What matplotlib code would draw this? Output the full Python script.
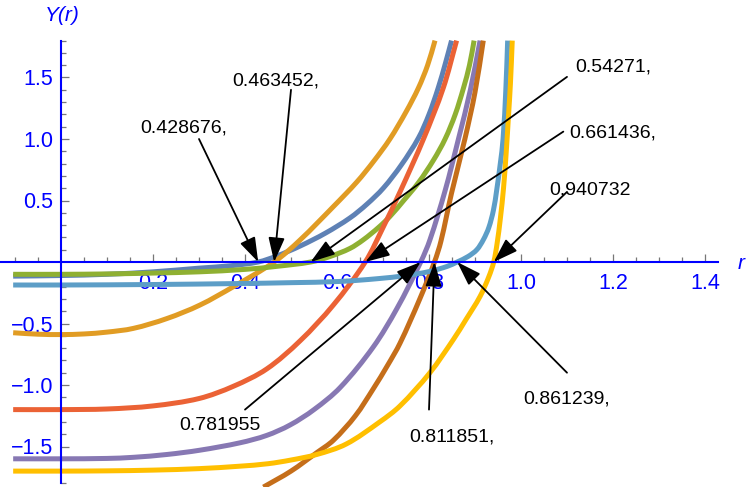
import numpy as np
import matplotlib
matplotlib.use("Agg")
import matplotlib.pyplot as plt
from matplotlib.path import Path
from matplotlib.patches import PathPatch
from matplotlib.ticker import FixedLocator, FixedFormatter

plt.rcParams['font.family'] = ['Liberation Sans', 'DejaVu Sans']

# ---------------- data ----------------
r_blue = [-0.104, 0.0, 0.1, 0.2, 0.3, 0.37, 0.428676, 0.47, 0.52, 0.575, 0.628, 0.665, 0.701, 0.74, 0.777, 0.80, 0.82, 0.836, 0.849]
y_blue = [-0.115, -0.11, -0.10, -0.08, -0.05, -0.03, 0.0, 0.05, 0.13, 0.235, 0.358, 0.47, 0.602, 0.79, 1.008, 1.20, 1.415, 1.62, 1.8]

r_orange = [-0.104, -0.05, 0.0, 0.05, 0.1, 0.157, 0.23, 0.302, 0.375, 0.463452, 0.52, 0.592, 0.643, 0.68, 0.715, 0.75, 0.777, 0.797, 0.813]
y_orange = [-0.575, -0.587, -0.59, -0.585, -0.57, -0.54, -0.46, -0.35, -0.2, 0.0, 0.18, 0.45, 0.65, 0.82, 1.0, 1.22, 1.415, 1.6, 1.8]

r_green = [-0.104, 0.0, 0.1, 0.2, 0.3, 0.4, 0.47, 0.54271, 0.585, 0.628, 0.657, 0.69, 0.715, 0.745, 0.777, 0.81, 0.835, 0.857, 0.875, 0.888, 0.898]
y_green = [-0.10, -0.10, -0.097, -0.09, -0.08, -0.06, -0.035, 0.0, 0.045, 0.11, 0.18, 0.28, 0.37, 0.50, 0.645, 0.83, 1.0, 1.2, 1.415, 1.6, 1.8]

r_red = [-0.104, 0.0, 0.1, 0.2, 0.3, 0.375, 0.447, 0.52, 0.592, 0.661436, 0.70, 0.737, 0.788, 0.831, 0.86]
y_red = [-1.20, -1.20, -1.195, -1.17, -1.11, -1.01, -0.87, -0.64, -0.35, 0.0, 0.28, 0.57, 1.0, 1.415, 1.8]

r_purple = [-0.104, 0.0, 0.1, 0.157, 0.23, 0.302, 0.389, 0.447, 0.498, 0.55, 0.607, 0.679, 0.73, 0.781955, 0.802, 0.835, 0.864, 0.89, 0.911]
y_purple = [-1.60, -1.60, -1.597, -1.588, -1.565, -1.53, -1.47, -1.41, -1.325, -1.20, -1.02, -0.69, -0.38, 0.0, 0.18, 0.58, 1.0, 1.4, 1.8]

r_brown = [0.44, 0.50, 0.556, 0.592, 0.64, 0.679, 0.71, 0.737, 0.78, 0.811851, 0.826, 0.849, 0.878, 0.90, 0.918]
y_brown = [-1.83, -1.70, -1.55, -1.45, -1.25, -1.03, -0.84, -0.66, -0.30, 0.0, 0.17, 0.56, 1.0, 1.38, 1.8]

r_lblue = [-0.104, 0.0, 0.2, 0.389, 0.5, 0.607, 0.69, 0.75, 0.80, 0.84, 0.861239, 0.885, 0.904, 0.918, 0.93, 0.94, 0.947, 0.955, 0.961, 0.967, 0.971]
y_lblue = [-0.187, -0.187, -0.183, -0.175, -0.168, -0.158, -0.135, -0.11, -0.078, -0.035, 0.0, 0.045, 0.10, 0.18, 0.28, 0.42, 0.58, 0.80, 1.0, 1.4, 1.8]

r_yellow = [-0.104, 0.0, 0.1, 0.2, 0.3, 0.389, 0.45, 0.5, 0.556, 0.62, 0.693, 0.737, 0.802, 0.853, 0.88, 0.911, 0.93, 0.940732, 0.948, 0.955, 0.962, 0.968, 0.973, 0.977, 0.981]
y_yellow = [-1.70, -1.70, -1.698, -1.692, -1.68, -1.66, -1.64, -1.61, -1.565, -1.48, -1.30, -1.17, -0.90, -0.63, -0.47, -0.28, -0.12, 0.0, 0.15, 0.35, 0.60, 0.90, 1.20, 1.45, 1.8]

roots = [0.428676, 0.463452, 0.54271, 0.661436, 0.781955, 0.811851, 0.861239, 0.940732]
root_labels = ["0.428676,", "0.463452,", "0.54271,", "0.661436,", "0.781955", "0.811851,", "0.861239,", "0.940732"]
label_xy = [(0.2674, 1.049), (0.4674, 1.439), (1.20, 1.545), (1.20, 1.016),
            (0.3457, -1.366), (0.849, -1.461), (1.098, -1.154), (1.15, 0.545)]
arrow_start = [(0.30, 1.00), (0.50, 1.40), (1.10, 1.505), (1.092, 1.06),
               (0.40, -1.20), (0.80, -1.20), (1.10, -0.90), (1.10, 0.57)]

xt_major = [0.2, 0.4, 0.6, 0.8, 1.0, 1.2, 1.4]
xt_labels = ["0.2", "0.4", "0.6", "0.8", "1.0", "1.2", "1.4"]
yt_major = [-1.5, -1.0, -0.5, 0.5, 1.0, 1.5]
yt_labels = ["\u22121.5", "\u22121.0", "\u22120.5", "0.5", "1.0", "1.5"]

colors = ["#5E81B5", "#E19C24", "#8FB032", "#EB6235", "#8778B3", "#C56E1A", "#5D9EC7", "#FFBF00"]

# ---------------- figure ----------------
fig = plt.figure(figsize=(7.47, 4.87), dpi=100)
ax = fig.add_axes([0, 0, 1, 1])
ax.set_xlim(-61 / 460, 686 / 460)
ax.set_ylim(-225 / 123, 262 / 123)


def smooth_path(rx, ry):
    """Cubic Bezier path through the read points (tangents from neighbours,
    computed in screen-like units so both axes weigh equally)."""
    P = np.column_stack([np.asarray(rx, float) * 460.0, np.asarray(ry, float) * 123.0])
    n = len(P)
    T = np.zeros_like(P)
    for i in range(n):
        a = P[max(i - 1, 0)]
        b = P[min(i + 1, n - 1)]
        d = b - a
        T[i] = d / np.hypot(*d)
    verts = [P[0]]
    codes = [Path.MOVETO]
    for i in range(n - 1):
        L = np.hypot(*(P[i + 1] - P[i])) / 3.0
        verts += [P[i] + T[i] * L, P[i + 1] - T[i + 1] * L, P[i + 1]]
        codes += [Path.CURVE4] * 3
    V = np.array(verts)
    V[:, 0] /= 460.0
    V[:, 1] /= 123.0
    return Path(V, codes)


series = [(r_blue, y_blue), (r_orange, y_orange), (r_green, y_green), (r_red, y_red),
          (r_purple, y_purple), (r_brown, y_brown), (r_lblue, y_lblue), (r_yellow, y_yellow)]
for (rx, ry), c in zip(series, colors):
    ax.add_patch(PathPatch(smooth_path(rx, ry), facecolor='none', edgecolor=c, lw=3.6,
                           capstyle='butt', joinstyle='round', zorder=2))

# axes through origin
for s in ['top', 'right']:
    ax.spines[s].set_visible(False)
axis_blue = '#0000FF'
ax.spines['left'].set_position(('data', 0))
ax.spines['bottom'].set_position(('data', 0))
ax.spines['left'].set_bounds(-1.8, 1.8)
ax.spines['bottom'].set_bounds(-0.1326, 1.428)
for s in ['left', 'bottom']:
    ax.spines[s].set_color(axis_blue)
    ax.spines[s].set_linewidth(1.5)
    ax.spines[s].set_zorder(2.5)

xt_minor = [round(k * 0.05, 2) for k in range(-2, 29) if k % 4 != 0]
yt_minor = [round(k * 0.1, 1) for k in range(-18, 19) if k % 5 != 0]

ax.xaxis.set_major_locator(FixedLocator(xt_major))
ax.xaxis.set_major_formatter(FixedFormatter(xt_labels))
ax.xaxis.set_minor_locator(FixedLocator(xt_minor))
ax.yaxis.set_major_locator(FixedLocator(yt_major))
ax.yaxis.set_major_formatter(FixedFormatter(yt_labels))
ax.yaxis.set_minor_locator(FixedLocator(yt_minor))

ax.tick_params(which='major', direction='in', length=6, width=0.9, color='#777777',
               labelcolor=axis_blue, labelsize=15.5)
ax.tick_params(which='minor', direction='in', length=3.5, width=0.9, color='#777777')
ax.tick_params(axis='x', which='major', pad=8)
ax.tick_params(axis='y', which='major', pad=5.5)

ax.text(0.002, 2.0, "Y(r)", color=axis_blue, fontsize=15, fontstyle='italic',
        ha='center', va='center')
ax.text(1.478, -0.016, "r", color=axis_blue, fontsize=15, fontstyle='italic',
        ha='center', va='center')

# callouts
for rt, lab, (tx, ty), (sx, sy) in zip(roots, root_labels, label_xy, arrow_start):
    ax.text(tx, ty, lab, fontsize=14, color='black', ha='center', va='baseline', zorder=4)
    ax.annotate("", xy=(rt, 0), xytext=(sx, sy),
                arrowprops=dict(arrowstyle='-|>,head_length=1.5,head_width=0.5',
                                mutation_scale=10, lw=1.3, color='black',
                                shrinkA=0, shrinkB=0), zorder=4)

fig.savefig("out.png", dpi=100)
